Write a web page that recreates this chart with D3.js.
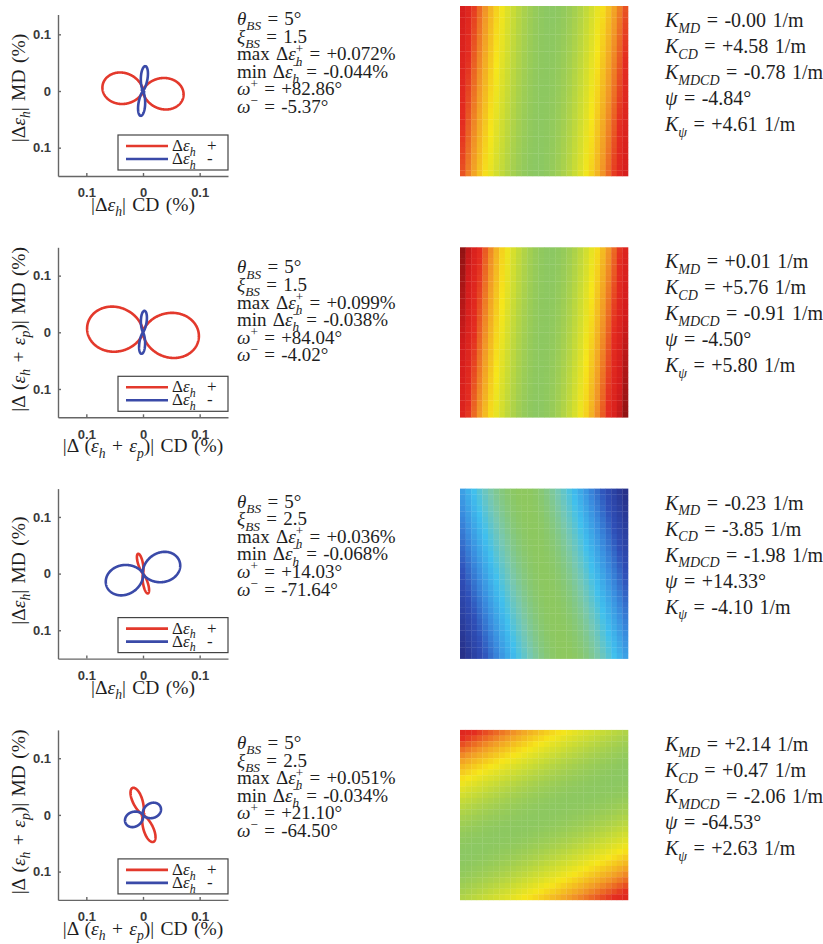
<!DOCTYPE html>
<html lang="en">
<head>
<meta charset="UTF-8">
<title>Strain lobes and curvature maps</title>
<style>
  body { margin: 0; background: #fff; }
  svg { display: block; }
  .tex { font-family: "Liberation Serif", "Times New Roman", serif; fill: #1e1e1e; white-space: pre; word-spacing: 1.5px; }
  .tick text { font-family: "Liberation Sans", Arial, sans-serif; font-size: 13px; font-weight: bold; fill: #3a3a3a; }
  .axis path, .axis line { stroke: #666; stroke-width: 1.4; }
</style>
<script src="https://cdn.jsdelivr.net/npm/d3@7"></script>
</head>
<body>
<script>
// one entry per row, top to bottom
var thetaBS = [5, 5, 5, 5];
var xiBS = [1.5, 1.5, 2.5, 2.5];
var maxStrain = [0.072, 0.099, 0.036, 0.051];
var minStrain = [-0.044, -0.038, -0.068, -0.034];
var omegaPlus = [82.86, 84.04, 14.03, 21.10];
var omegaMinus = [-5.37, -4.02, -71.64, -64.50];
// how thin each lobe is drawn (exponent of the cos lobe)
var shapePlus = [2, 1.8, 25, 12];
var shapeMinus = [19, 19, 2, 2];
var kMD = [-0.00, 0.01, -0.23, 2.14];
var kCD = [4.58, 5.76, -3.85, 0.47];
var kMDCD = [-0.78, -0.91, -1.98, -2.06];
var psi = [-4.84, -4.50, 14.33, -64.53];
var kPsi = [4.61, 5.80, -4.10, 2.63];
var strainName = ["|Δ$ε$_h|", "|Δ ($ε$_h + $ε$_p)|", "|Δ$ε$_h|", "|Δ ($ε$_h + $ε$_p)|"];
var tickVals = [-0.1, 0, 0.1];
var legendNames = ["Δ$ε$_h  +", "Δ$ε$_h  -"];
// colour map of the surface height
var mapStops = [-2.8, -1.8, -1.15, -0.65, -0.3, 0, 0.45, 0.8, 1.35, 2.0, 2.6, 3.3];
var mapColors = ["#27318a", "#2f4fb8", "#3a8fe0", "#40c0ee", "#78c8b0", "#8dc860",
                 "#cadc34", "#f6e61a", "#f29a26", "#e42c20", "#d41c1c", "#7c1010"];

var W = 823, H = 944;
var row0 = 91, rowStep = 241.3;
var plotL = 58, plotR = 228, half = 85;
var axisTop = [0.135, 0.15, 0.15, 0.15];
var textShift = [0, 7, 0, 0];
var mapL = 460, mapR = 628, gridN = 30;
var red = "#e3392c", blue = "#3a4aa8";

var svg = d3.select("body").append("svg").attr("width", W).attr("height", H);

function sgn(v, n) {
  var neg = v < 0 || Object.is(v, -0);
  return (neg ? "-" : "+") + Math.abs(v).toFixed(n);
}

// tiny TeX-ish writer: $..$ italic, _x / _{..} subscript, ^x / ^{..} superscript
function tex(sel, s, fs) {
  var toks = [], i = 0, buf = "";
  function flush() { if (buf) { toks.push({t: buf, k: "r"}); buf = ""; } }
  while (i < s.length) {
    var c = s[i], j;
    if (c === "$") {
      flush(); j = s.indexOf("$", i + 1);
      toks.push({t: s.slice(i + 1, j), k: "i"}); i = j + 1;
    } else if (c === "_" || c === "^") {
      flush();
      var t;
      if (s[i + 1] === "{") { j = s.indexOf("}", i); t = s.slice(i + 2, j); i = j + 1; }
      else { t = s[i + 1]; i += 2; }
      toks.push({t: t, k: c === "_" ? "sub" : "sup"});
    } else { buf += c; i++; }
  }
  flush();
  var cur = 0, prev = null, subW = 0, extra = 0;
  toks.forEach(function(tk) {
    var ts = sel.append("tspan").text(tk.t);
    var target = 0, dx = extra;
    extra = 0;
    if (tk.k === "sub") {
      target = fs * 0.28;
      ts.attr("font-size", fs * 0.7).attr("font-style", "italic");
    } else if (tk.k === "sup") {
      target = -fs * 0.4;
      ts.attr("font-size", fs * 0.7);
    } else if (tk.k === "i") {
      ts.attr("font-style", "italic");
    }
    if (tk.k === "sup" && prev && prev.k === "sub") dx -= subW;
    ts.attr("dy", target - cur);
    if (dx) ts.attr("dx", dx);
    cur = target;
    var w = ts.node().getComputedTextLength();
    if (tk.k === "sub") subW = w;
    if (tk.k === "sup" && prev && prev.k === "sub" && w < subW) extra = subW - w;
    prev = tk;
  });
  return sel;
}

function lobe(a, omega, p) {
  var base = (90 + omega) * Math.PI / 180;
  return d3.range(0, 360.5, 0.5).map(function(k) {
    var phi = k * Math.PI / 180;
    var r = Math.abs(a) * Math.pow(Math.abs(Math.cos(phi)), p);
    return [r * Math.cos(base + phi), r * Math.sin(base + phi)];
  });
}

var color = d3.scaleLinear().domain(mapStops).range(mapColors).clamp(true);

thetaBS.forEach(function(th, r) {
  var cy = row0 + r * rowStep;
  var g = svg.append("g");

  // polar lobe plot
  var x = d3.scaleLinear().domain([-0.15, 0.15]).range([plotL, plotR]);
  var y = d3.scaleLinear().domain([-0.15, 0.15]).range([cy + half, cy - half]);
  var yAx = d3.scaleLinear().domain([-0.15, axisTop[r]]).range([y(-0.15), y(axisTop[r])]);

  g.append("g").attr("class", "axis")
    .attr("transform", "translate(" + plotL + ",0)")
    .call(d3.axisLeft(yAx).tickValues(tickVals).tickFormat(function(d) { return Math.abs(d); })
      .tickSizeInner(-3).tickSizeOuter(0).tickPadding(7));
  g.append("g").attr("class", "axis")
    .attr("transform", "translate(0," + y(-0.15) + ")")
    .call(d3.axisBottom(x).tickValues(tickVals).tickFormat(function(d) { return Math.abs(d); })
      .tickSizeInner(-3).tickSizeOuter(0).tickPadding(12));

  var line = d3.line().x(function(d) { return x(d[0]); }).y(function(d) { return y(d[1]); });
  g.append("path").attr("d", line(lobe(maxStrain[r], omegaPlus[r], shapePlus[r])) + "Z")
    .attr("fill", "none").attr("stroke", red).attr("stroke-width", 2.6);
  g.append("path").attr("d", line(lobe(minStrain[r], omegaMinus[r], shapeMinus[r])) + "Z")
    .attr("fill", "none").attr("stroke", blue).attr("stroke-width", 2.6);

  // legend
  var lg = g.append("g").attr("transform", "translate(118," + (cy + 44) + ")");
  lg.append("rect").attr("width", 110).attr("height", 35)
    .attr("fill", "#fff").attr("stroke", "#444").attr("stroke-width", 1.2);
  [red, blue].forEach(function(c, k) {
    lg.append("line").attr("x1", 8).attr("x2", 50).attr("y1", 11 + k * 13).attr("y2", 11 + k * 13)
      .attr("stroke", c).attr("stroke-width", 2.6);
    tex(lg.append("text").attr("class", "tex").attr("x", 54).attr("y", 16 + k * 13)
      .attr("font-size", 17), legendNames[k], 17);
  });

  // axis titles
  tex(g.append("text").attr("class", "tex").attr("text-anchor", "middle")
    .attr("font-size", 19.5)
    .attr("transform", "translate(25," + (cy - 3) + ") rotate(-90)"), strainName[r] + " MD (%)", 19.5);
  tex(g.append("text").attr("class", "tex").attr("text-anchor", "middle")
    .attr("font-size", 19.5)
    .attr("x", x(0)).attr("y", cy + 120), strainName[r] + " CD (%)", 19.5);

  // middle annotation block
  var mid = [
    "$θ$_{BS} = " + th + "°",
    "$ξ$_{BS} = " + xiBS[r].toFixed(1),
    "max Δ$ε$_h^+ = " + sgn(maxStrain[r], 3) + "%",
    "min Δ$ε$_h^− = " + sgn(minStrain[r], 3) + "%",
    "$ω$^+ = " + sgn(omegaPlus[r], 2) + "°",
    "$ω$^− = " + sgn(omegaMinus[r], 2) + "°"
  ];
  mid.forEach(function(s, k) {
    tex(g.append("text").attr("class", "tex").attr("font-size", 19)
      .attr("x", 237).attr("y", cy - 66 + textShift[r] + k * 17.6), s, 19);
  });

  // curvature map
  var gx = d3.scaleBand().domain(d3.range(gridN)).range([mapL, mapR]);
  var gy = d3.scaleBand().domain(d3.range(gridN)).range([cy - half, cy + half]);
  var cells = [];
  d3.range(gridN).forEach(function(j) {
    d3.range(gridN).forEach(function(i) {
      var u = -1 + (2 * i + 1) / gridN, v = 1 - (2 * j + 1) / gridN;
      cells.push({i: i, j: j, z: 0.5 * (kCD[r] * u * u + kMD[r] * v * v + kMDCD[r] * u * v)});
    });
  });
  g.append("g").selectAll("rect").data(cells).join("rect")
    .attr("x", function(d) { return gx(d.i); })
    .attr("y", function(d) { return gy(d.j); })
    .attr("width", gx.bandwidth() + 0.3)
    .attr("height", gy.bandwidth() + 0.3)
    .attr("fill", function(d) { return color(d.z); });

  // curvature block
  var right = [
    "$K$_{MD} = " + sgn(kMD[r], 2) + " 1/m",
    "$K$_{CD} = " + sgn(kCD[r], 2) + " 1/m",
    "$K$_{MDCD} = " + sgn(kMDCD[r], 2) + " 1/m",
    "$ψ$ = " + sgn(psi[r], 2) + "°",
    "$K$_{ψ} = " + sgn(kPsi[r], 2) + " 1/m"
  ];
  right.forEach(function(s, k) {
    tex(g.append("text").attr("class", "tex").attr("font-size", 20)
      .attr("x", 665).attr("y", cy - 64 + k * 26), s, 20);
  });
});
</script>
</body>
</html>
